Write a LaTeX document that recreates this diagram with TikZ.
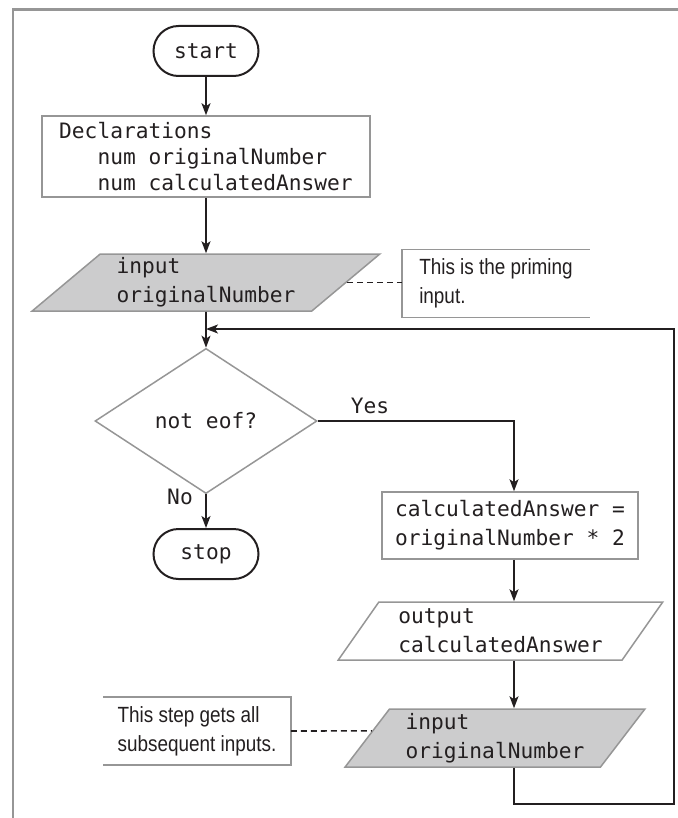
\documentclass[tikz,border=0pt]{standalone}
\usepackage{fontspec}
\setmonofont{DejaVu Sans Mono}
\newfontfamily\notefont[FakeStretch=0.86]{Liberation Sans}
\usepackage{tikz}
\usetikzlibrary{shapes.geometric, arrows.meta, positioning, calc}
\definecolor{boxgray}{RGB}{150,150,150}
\definecolor{iofill}{RGB}{204,204,205}
\definecolor{ink}{RGB}{35,31,32}
\tikzstyle{arrow} = [thick,draw=ink,-{Stealth[length=6pt,width=4.5pt,inset=1.5pt]}]
\tikzstyle{terminal} = [draw=ink,line width=1pt,rounded corners=12.5pt,minimum width=52.5pt,minimum height=25pt]
\tikzstyle{codebox} = [draw=boxgray,line width=0.75pt,fill=white,align=left]
\tikzstyle{iobox} = [trapezium,trapezium stretches=true,draw=boxgray,line width=0.75pt,align=left,inner ysep=1pt]
\tikzstyle{decision} = [diamond,draw=boxgray,line width=0.75pt,minimum width=111pt,minimum height=65pt]
\tikzstyle{notebox} = [font=\notefont\fontsize{11}{14.5}\selectfont,align=left,minimum width=93.5pt,minimum height=33.5pt]
\tikzstyle{callout} = [thick,draw=ink,dash pattern=on 3pt off 2pt]

\begin{document}
\begin{tikzpicture}[x=0.5pt,y=-0.5pt,text=ink,font=\ttfamily\fontsize{10.6}{14.5}\selectfont]
    \useasboundingbox (0,0) rectangle (678,818);
    % frame
    \draw[boxgray,line width=1.1pt] (13,818) -- (13,9.5) -- (678,9.5);

    \node[terminal] (start) at (206,51) {start};
    \node[codebox,minimum width=164pt,minimum height=39.5pt,font=\ttfamily\fontsize{10.6}{12.8}\selectfont] (decl) at (206,156.5)
        {Declarations\\\phantom{xxx}num originalNumber\\\phantom{xxx}num calculatedAnswer};
    \node[iobox,fill=iofill,trapezium left angle=41,trapezium right angle=139,minimum width=174pt,minimum height=28.5pt] (getfirst) at (206,282.5) {input\\originalNumber};
    \node[decision] (test) at (206,421) {not eof?};
    \node[terminal] (stop) at (206,554) {stop};
    \node[codebox,minimum width=128pt,minimum height=33.5pt] (calc) at (510,525.5) {calculatedAnswer =\\originalNumber * 2};
    \node[iobox,fill=white,trapezium left angle=53,trapezium right angle=127,minimum width=162.5pt,minimum height=29pt] (show) at (500.5,631) {output\\calculatedAnswer};
    \node[iobox,fill=iofill,trapezium left angle=53,trapezium right angle=127,minimum width=150pt,minimum height=29pt] (getnext) at (495,738) {input\\originalNumber};

    % notes
    \node[notebox] (note1) at (496,283.5) {This is the priming\\input.};
    \node[notebox] (note2) at (197,731) {This step gets all\\subsequent inputs.};
    \draw[boxgray,line width=0.75pt] (note1.north east) -| (note1.south west) -- (note1.south east);
    \draw[boxgray,line width=0.75pt] (note2.north west) -| (note2.south east) -- (note2.south west);

    \node (yes) at (370,406) {Yes};
    \node (no) at (180,497) {No};

    \coordinate (rcol) at (514,0);
    \coordinate (loopcorner) at (674,804);
    \coordinate (rejoin) at (206,329);

    \draw[arrow] (start) -- (decl);
    \draw[arrow] (decl) -- (getfirst);
    \draw[arrow] (getfirst) -- (test);
    \draw[arrow] (test) -- (stop);
    \draw[arrow] (test.east) -| (calc.north -| rcol);
    \draw[arrow] (calc.south -| rcol) -- (show.north -| rcol);
    \draw[arrow] (show.south -| rcol) -- (getnext.north -| rcol);
    \draw[arrow] (getnext.south -| rcol) |- (loopcorner) |- (rejoin);
    \draw[callout] (getfirst.east) -- (getfirst.east -| note1.west);
    \draw[callout] (note2.east) -- ($(getnext.bottom left corner)!0.62!(getnext.top left corner)$);
\end{tikzpicture}
\end{document}
